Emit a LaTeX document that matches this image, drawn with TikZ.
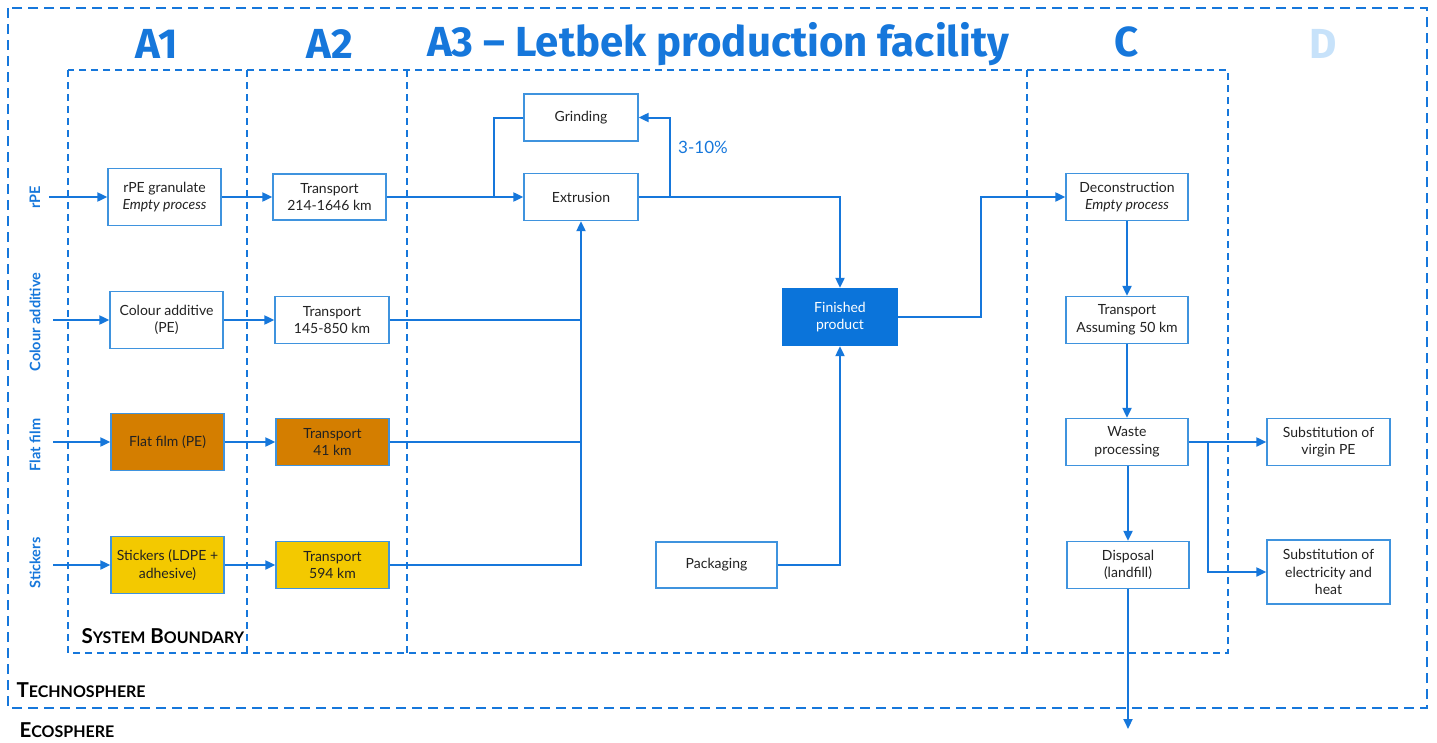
\documentclass[tikz,border=0pt]{standalone}
\usepackage{fontspec}
\setmainfont{Lato}
\newfontfamily\headfont{Fira Sans}
\usetikzlibrary{arrows.meta}
\definecolor{lb}{HTML}{1677DB}
\definecolor{bbord}{HTML}{3F93DE}
\definecolor{finfill}{HTML}{0B74DA}
\definecolor{dlight}{HTML}{C7E2FA}
\definecolor{orng}{HTML}{D47E00}
\definecolor{yell}{HTML}{F3C900}
\definecolor{txt}{HTML}{222222}
\newcommand{\fsc}[2]{#1{\fontsize{16}{18}\selectfont #2}}
\begin{document}
\begin{tikzpicture}[x=1pt,y=-1pt,
  box/.style={draw=bbord, line width=1.3pt, fill=white, align=center, inner sep=0pt,
    font=\fontsize{14}{17.5}\selectfont, text=txt},
  flow/.style={draw=lb, line width=2pt, -{Triangle[length=10pt,width=9pt]}},
  plain/.style={draw=lb, line width=2pt},
  outerb/.style={draw=lb, line width=2.4pt, dash pattern=on 10pt off 6pt},
  sysb/.style={draw=lb, line width=1.5pt, dash pattern=on 7pt off 5pt},
  head/.style={text=lb, font=\headfont\bfseries\fontsize{42}{46}\selectfont},
  side/.style={text=lb, rotate=90, font=\bfseries\fontsize{14.5}{16}\selectfont},
  sphere/.style={text=black, font=\bfseries\fontsize{20.5}{22}\selectfont, anchor=west}]
\useasboundingbox (0,0) rectangle (1437,742);

% boundaries
\draw[outerb] (8,8) rectangle (1427,708);
\draw[sysb] (68,70) rectangle (1228,653);
\draw[sysb] (247,70) -- (247,653);
\draw[sysb] (407,70) -- (407,653);
\draw[sysb] (1027,70) -- (1027,653);

% headers
\node[head] (hA1) at (157,44) {A1};
\node[head] (hA2) at (330,44) {A2};
\node[head] (hA3) at (718,44) {A3 – Letbek production facility};
\node[head] (hC) at (1127,42) {C};
\node[head, text=dlight] (hD) at (1323,44) {D};

% side labels
\node[side] (sRPE) at (35,197) {rPE};
\node[side] (sCol) at (35,322) {Colour additive};
\node[side] (sFlat) at (35,445) {Flat film};
\node[side] (sStk) at (35,563) {Stickers};

% sphere labels
\node[sphere] (sysl) at (78,636) {\fsc{S}{YSTEM} \fsc{B}{OUNDARY}};
\node[sphere] (tech) at (13,690) {\fsc{T}{ECHNOSPHERE}};
\node[sphere] (eco) at (16,730) {\fsc{E}{COSPHERE}};

% A1
\node[box, minimum width=113pt, minimum height=57pt] (rpe) at (164.5,197) {rPE granulate\\\itshape Empty process};
\node[box, minimum width=113pt, minimum height=57pt] (col) at (166.5,320) {Colour additive\\(PE)};
\node[box, fill=orng, minimum width=113pt, minimum height=57pt] (flat) at (167.5,442) {Flat film (PE)};
\node[box, fill=yell, minimum width=113pt, minimum height=57pt] (stk) at (167.5,565) {Stickers (LDPE +\\adhesive)};
% A2
\node[box, minimum width=113pt, minimum height=46pt] (t1) at (329.5,197) {Transport\\214-1646 km};
\node[box, minimum width=114pt, minimum height=47pt] (t2) at (332,320) {Transport\\145-850 km};
\node[box, fill=orng, minimum width=113pt, minimum height=47pt] (t3) at (332.5,442) {Transport\\41 km};
\node[box, fill=yell, minimum width=113pt, minimum height=47pt] (t4) at (332.5,565) {Transport\\594 km};
% A3
\node[box, minimum width=114pt, minimum height=47pt] (grind) at (581,117.5) {Grinding};
\node[box, minimum width=114pt, minimum height=47pt] (ext) at (581,197) {Extrusion};
\node[box, draw=finfill, fill=finfill, text=white, minimum width=114pt, minimum height=57pt] (fin) at (840,317) {Finished\\product};
\node[box, minimum width=121pt, minimum height=46pt] (pack) at (716.5,565) {Packaging};
% C
\node[box, minimum width=122pt, minimum height=47pt] (dec) at (1127,197) {Deconstruction\\\itshape Empty process};
\node[box, minimum width=122pt, minimum height=47pt] (tc) at (1127,320) {Transport\\Assuming 50 km};
\node[box, minimum width=122pt, minimum height=47pt] (waste) at (1127,442) {Waste\\processing};
\node[box, minimum width=122pt, minimum height=47pt] (disp) at (1128,565) {Disposal\\(landfill)};
% D
\node[box, minimum width=123pt, minimum height=47pt] (sub1) at (1328.5,442) {Substitution of\\virgin PE};
\node[box, minimum width=123pt, minimum height=64pt] (sub2) at (1328.5,572) {Substitution of\\electricity and\\heat};

% percentage label
\node[text=lb, font=\fontsize{17}{19}\selectfont] (pct) at (703,147) {3-10\%};

% coordinates
\coordinate (inRPE) at (49,197);
\coordinate (inCol) at (53,320);
\coordinate (inFlat) at (53,442);
\coordinate (inStk) at (53,565);
\coordinate (jg) at (494,197);
\coordinate (jr) at (670,197);
\coordinate (jf) at (981,317);
\coordinate (jw) at (1208,442);
\coordinate (ecoOut) at (1128,729);

% connectors A1/A2
\draw[flow] (inRPE) -- (rpe.west);
\draw[flow] (inCol) -- (col.west);
\draw[flow] (inFlat) -- (flat.west);
\draw[flow] (inStk) -- (stk.west);
\draw[flow] (rpe.east) -- (t1.west);
\draw[flow] (col.east) -- (t2.west);
\draw[flow] (flat.east) -- (t3.west);
\draw[flow] (stk.east) -- (t4.west);
% A3
\draw[flow] (t1.east) -- (ext.west);
\draw[plain] (grind.west) -| (jg);
\draw[flow] (jr) |- (grind.east);
\draw[plain] (t2.east) -- (t2.east -| ext.south);
\draw[plain] (t3.east) -- (t3.east -| ext.south);
\draw[flow] (t4.east) -| (ext.south);
\draw[flow] (ext.east) -| (fin.north);
\draw[flow] (pack.east) -| (fin.south);
\draw[flow] (fin.east) -- (jf) |- (dec.west);
% C
\draw[flow] (dec.south) -- (tc.north);
\draw[flow] (tc.south) -- (waste.north);
\draw[flow] (waste.south -| disp.north) -- (disp.north);
\draw[flow] (waste.east) -- (sub1.west);
\draw[flow] (jw) |- (sub2.west);
\draw[flow] (disp.south) -- (ecoOut);
\end{tikzpicture}
\end{document}
